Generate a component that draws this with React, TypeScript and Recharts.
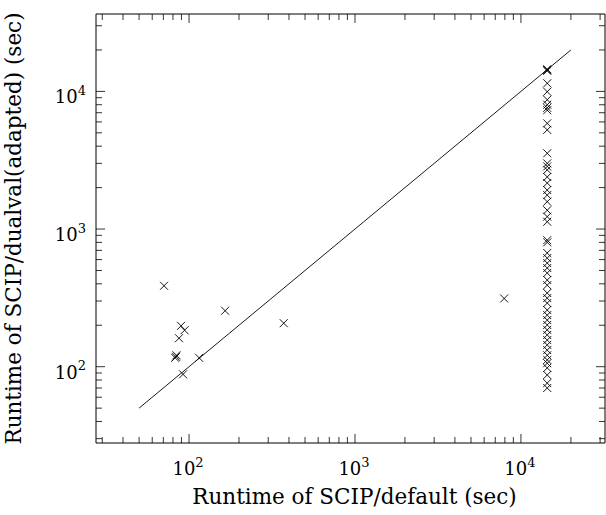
import { ScatterChart, Scatter, XAxis, YAxis, ReferenceLine, Label } from 'recharts';

// scattered instances (default runtime, dualval runtime)
const otherX = [70.7, 165, 89.5, 94, 87, 83.5, 82.5, 84, 115, 92, 372, 7925];
const otherY = [387, 255, 198, 184, 161, 118, 116, 121, 116, 88, 207, 313];

// instances where default hit the time limit
const limitX = 14400;
const limitY = [
  14500, 14300, 14100, 11450, 9950, 8700, 8000, 7600, 7300, 5860, 5250, 3550, 3000, 2850, 2690,
  2390, 2160, 1920, 1765, 1580, 1370, 1230, 1130, 830, 800, 670, 615, 566, 521, 479, 426, 391, 343,
  315, 290, 258, 237, 218, 201, 185, 170, 156, 144, 132, 121, 112, 106, 98, 87, 76, 70,
];

const diagonal = [50, 20000];
const majorTicks = [100, 1000, 10000];
const minorTicks = [
  30, 40, 50, 60, 70, 80, 90, 200, 300, 400, 500, 600, 700, 800, 900, 2000, 3000, 4000, 5000,
  6000, 7000, 8000, 9000, 20000, 30000,
];
const xDomain = [27.5, 32100];
const yDomain = [27.9, 36500];

const FONT = 'DejaVu Serif';
const allTicks = [...majorTicks, ...minorTicks].sort((a, b) => a - b);

const data = [
  ...otherX.map((x, i) => ({ x, y: otherY[i] })),
  ...limitY.map((y) => ({ x: limitX, y })),
];

const isMajor = (v: number) => majorTicks.includes(v);
const tickLen = (v: number) => (isMajor(v) ? 9 : 6);

function Pow({ v }: { v: number }) {
  return (
    <>
      10
      <tspan dy={-8.5} fontSize={13}>
        {Math.round(Math.log10(v))}
      </tspan>
    </>
  );
}

function BottomTick({ x, y, payload }: any) {
  const v = payload.value;
  return (
    <g>
      <line x1={x} x2={x} y1={y} y2={y - tickLen(v)} stroke="#000" strokeWidth={0.8} />
      {isMajor(v) && (
        <text x={x - 1} y={y + 32} textAnchor="middle" fontFamily={FONT} fontSize={18} fill="#000">
          <Pow v={v} />
        </text>
      )}
    </g>
  );
}

function TopTick({ x, y, payload }: any) {
  return <line x1={x} x2={x} y1={y} y2={y + tickLen(payload.value)} stroke="#000" strokeWidth={0.8} />;
}

function LeftTick({ x, y, payload }: any) {
  const v = payload.value;
  return (
    <g>
      <line x1={x} x2={x + tickLen(v)} y1={y} y2={y} stroke="#000" strokeWidth={0.8} />
      {isMajor(v) && (
        <text x={x - 10} y={y + 12} textAnchor="end" fontFamily={FONT} fontSize={18} fill="#000">
          <Pow v={v} />
        </text>
      )}
    </g>
  );
}

function RightTick({ x, y, payload }: any) {
  return <line x1={x} x2={x - tickLen(payload.value)} y1={y} y2={y} stroke="#000" strokeWidth={0.8} />;
}

function Cross({ cx, cy }: any) {
  const r = 4;
  return (
    <path
      d={`M${cx - r},${cy - r}L${cx + r},${cy + r}M${cx - r},${cy + r}L${cx + r},${cy - r}`}
      stroke="#000"
      strokeWidth={0.9}
      fill="none"
    />
  );
}

const Empty = () => <g />;

export default function App() {
  return (
    <div style={{ position: 'absolute', left: 0, top: 0, background: '#fff' }}>
      <ScatterChart width={606} height={515} margin={{ top: 13, right: 0, bottom: 0, left: 0 }}>
        <XAxis
          dataKey="x"
          type="number"
          scale="log"
          domain={xDomain}
          allowDataOverflow
          ticks={allTicks}
          interval={0}
          tick={<BottomTick />}
          tickLine={false}
          tickSize={0}
          tickMargin={0}
          height={72}
          axisLine={{ stroke: '#000', strokeWidth: 1 }}
        >
          <Label
            content={({ viewBox }: any) => (
              <text
                x={viewBox.x + viewBox.width / 2 + 4}
                y={viewBox.y + 61}
                textAnchor="middle"
                fontFamily={FONT}
                fontSize={21.5}
                fill="#000"
              >
                Runtime of SCIP/default (sec)
              </text>
            )}
          />
        </XAxis>
        <XAxis
          xAxisId="top"
          dataKey="x"
          orientation="top"
          type="number"
          scale="log"
          domain={xDomain}
          allowDataOverflow
          ticks={allTicks}
          interval={0}
          tick={<TopTick />}
          tickLine={false}
          tickSize={0}
          tickMargin={0}
          height={1}
          axisLine={{ stroke: '#000', strokeWidth: 1 }}
        />
        <YAxis
          dataKey="y"
          type="number"
          scale="log"
          domain={yDomain}
          allowDataOverflow
          ticks={allTicks}
          interval={0}
          tick={<LeftTick />}
          tickLine={false}
          tickSize={0}
          tickMargin={0}
          width={96}
          axisLine={{ stroke: '#000', strokeWidth: 1 }}
        >
          <Label
            content={({ viewBox }: any) => {
              const cx = 21;
              const cy = viewBox.y + viewBox.height / 2;
              return (
                <text
                  x={cx}
                  y={cy}
                  transform={`rotate(-90 ${cx} ${cy})`}
                  textAnchor="middle"
                  fontFamily={FONT}
                  fontSize={21.5}
                  fill="#000"
                >
                  Runtime of SCIP/dualval(adapted) (sec)
                </text>
              );
            }}
          />
        </YAxis>
        <YAxis
          yAxisId="right"
          dataKey="y"
          orientation="right"
          type="number"
          scale="log"
          domain={yDomain}
          allowDataOverflow
          ticks={allTicks}
          interval={0}
          tick={<RightTick />}
          tickLine={false}
          tickSize={0}
          tickMargin={0}
          width={1}
          axisLine={{ stroke: '#000', strokeWidth: 1 }}
        />
        <ReferenceLine
          segment={[
            { x: diagonal[0], y: diagonal[0] },
            { x: diagonal[1], y: diagonal[1] },
          ]}
          stroke="#000"
          strokeWidth={0.9}
          ifOverflow="visible"
        />
        <Scatter data={data} shape={<Cross />} isAnimationActive={false} />
        <Scatter
          data={data}
          xAxisId="top"
          yAxisId="right"
          shape={<Empty />}
          isAnimationActive={false}
        />
      </ScatterChart>
    </div>
  );
}
